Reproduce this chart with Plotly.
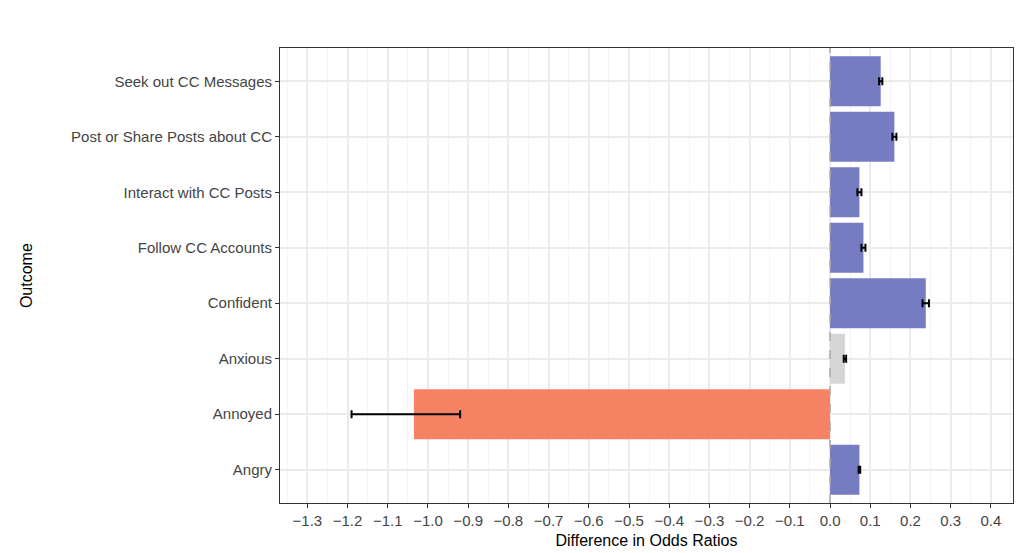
import plotly.graph_objects as go

outcomes = ['Angry', 'Annoyed', 'Anxious', 'Confident', 'Follow CC Accounts',
            'Interact with CC Posts', 'Post or Share Posts about CC', 'Seek out CC Messages']
diffs = [0.073, -1.035, 0.037, 0.238, 0.083, 0.073, 0.16, 0.126]
err_lo = [0.002, 0.155, 0.003, 0.008, 0.005, 0.005, 0.005, 0.004]
err_hi = [0.002, 0.115, 0.003, 0.008, 0.005, 0.005, 0.005, 0.004]
bar_colors = ['#6f75bf', '#f47c5c', '#d3d3d3', '#6f75bf', '#6f75bf', '#6f75bf', '#6f75bf', '#6f75bf']
tick_vals = [round(-1.3 + 0.1 * i, 1) for i in range(18)]

fig = go.Figure()
fig.add_trace(go.Bar(
    x=diffs, y=outcomes, orientation='h', width=0.9,
    marker=dict(color=bar_colors, opacity=0.95, line=dict(width=0)),
    error_x=dict(type='data', symmetric=False, array=err_hi, arrayminus=err_lo,
                 color='black', thickness=2, width=4),
))
fig.add_vline(x=0, line=dict(color='#aaaaaa', dash='dash', width=1.5))

fig.update_layout(
    width=1024, height=553, plot_bgcolor='white', paper_bgcolor='white',
    margin=dict(l=272, r=19, t=40, b=58), showlegend=False,
    font=dict(family='Arial, Liberation Sans', size=15, color='#444444'),
)
fig.update_xaxes(
    range=[-1.368, 0.455], tickvals=tick_vals, automargin=False,
    ticktext=[('\u2212' if v < 0 else '') + f'{abs(v):.1f}' for v in tick_vals],
    showgrid=True, gridcolor='#ebebeb', gridwidth=1.5,
    minor=dict(dtick=0.05, tick0=0.05, showgrid=True, gridcolor='#f4f4f4', gridwidth=1),
    ticks='outside', ticklen=4, tickcolor='#333333', zeroline=False,
    showline=True, linecolor='#333333', mirror=True, linewidth=1,
    title=dict(text='Difference in Odds Ratios', font=dict(size=16, color='black'), standoff=6),
)
fig.update_yaxes(
    range=[-0.6, 7.6], showgrid=True, gridcolor='#ebebeb', gridwidth=1.5, automargin=False,
    ticks='outside', ticklen=4, tickcolor='#333333',
    showline=True, linecolor='#333333', mirror=True, linewidth=1,
)
fig.add_annotation(text='Outcome', xref='paper', yref='paper', x=-0.36, y=0.5,
                   textangle=-90, showarrow=False, font=dict(size=16, color='black'))
fig.write_html('out.html')
